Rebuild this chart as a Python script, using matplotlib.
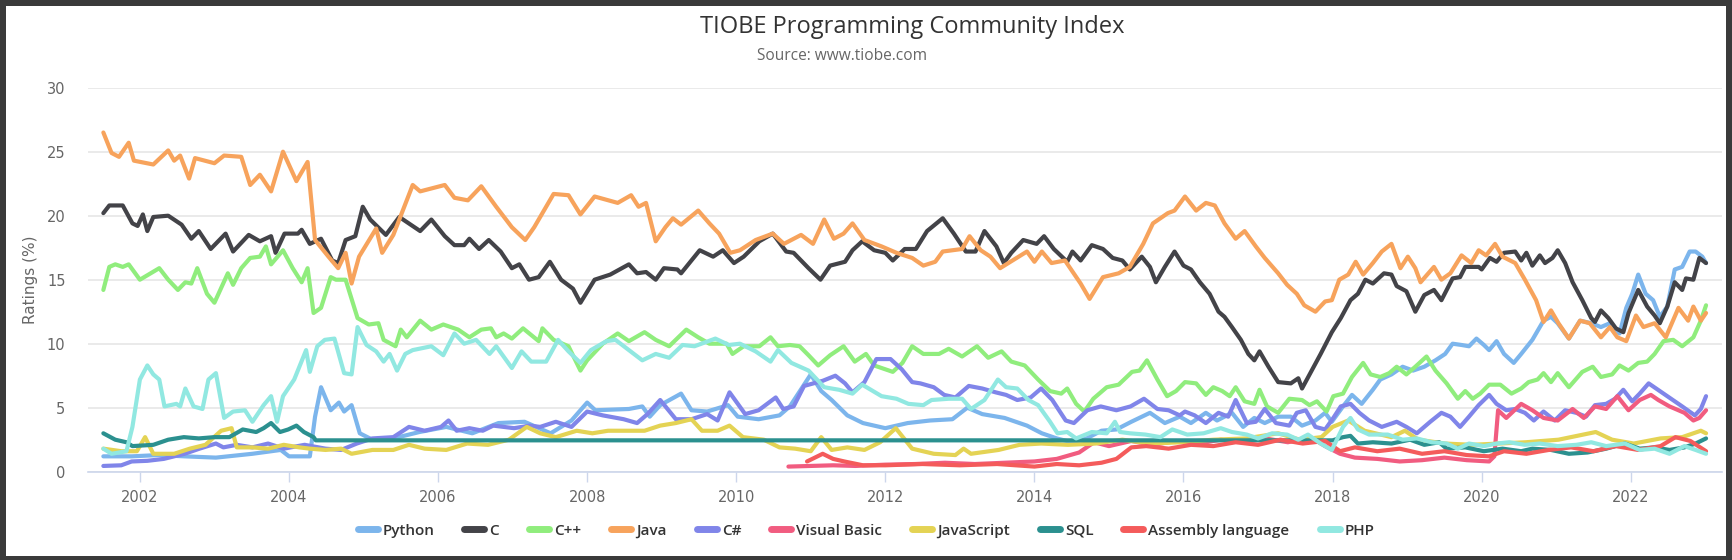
import matplotlib
matplotlib.use("Agg")
import matplotlib.pyplot as plt
from matplotlib.lines import Line2D
from matplotlib.patches import Rectangle

# ---- data (decimal year, rating %) ----
python_t = [2001.51, 2001.89, 2002.25, 2002.6, 2003.02, 2003.51, 2003.89, 2004.0, 2004.28, 2004.35,
            2004.43, 2004.56, 2004.67, 2004.74, 2004.84, 2004.95, 2005.12, 2005.4, 2005.75, 2006.11,
            2006.46, 2006.81, 2007.16, 2007.51, 2007.79, 2008.0, 2008.11, 2008.56, 2008.74, 2008.84,
            2008.98, 2009.26, 2009.4, 2009.61, 2009.89, 2010.02, 2010.3, 2010.58, 2010.72, 2011.0,
            2011.14, 2011.28, 2011.49, 2011.7, 2012.0, 2012.3, 2012.6, 2012.9, 2013.1, 2013.3,
            2013.6, 2013.9, 2014.1, 2014.3, 2014.5, 2014.7, 2014.9, 2015.1, 2015.3, 2015.55,
            2015.75, 2015.95, 2016.1, 2016.3, 2016.45, 2016.65, 2016.8, 2016.95, 2017.09, 2017.27,
            2017.44, 2017.59, 2017.77, 2017.9, 2017.99, 2018.14, 2018.26, 2018.39, 2018.54, 2018.64,
            2018.79, 2018.94, 2019.08, 2019.23, 2019.38, 2019.51, 2019.61, 2019.73, 2019.83, 2019.93,
            2020.03, 2020.1, 2020.2, 2020.3, 2020.43, 2020.53, 2020.68, 2020.83, 2020.93, 2021.02,
            2021.17, 2021.32, 2021.47, 2021.6, 2021.72, 2021.85, 2021.94, 2022.02, 2022.1, 2022.2,
            2022.3, 2022.39, 2022.49, 2022.59, 2022.69, 2022.79, 2022.87, 2022.96, 2023.01]
python_v = [1.2, 1.2, 1.3, 1.2, 1.1, 1.4, 1.7, 1.2, 1.2, 4.3,
            6.6, 4.8, 5.4, 4.7, 5.2, 3.0, 2.5, 2.6, 3.1, 3.5,
            3.0, 3.8, 3.9, 3.0, 4.0, 5.4, 4.8, 4.9, 5.1, 4.3,
            5.2, 6.1, 4.8, 4.7, 5.2, 4.3, 4.1, 4.4, 5.1, 7.6,
            6.3, 5.6, 4.4, 3.8, 3.4, 3.8, 4.0, 4.1, 5.0, 4.5,
            4.2, 3.6, 3.0, 2.6, 2.3, 2.6, 3.2, 3.3, 3.9, 4.6,
            3.8, 4.3, 3.8, 4.6, 4.0, 4.6, 3.5, 4.2, 3.8, 4.3,
            4.3, 3.6, 4.0, 4.6, 3.9, 5.1, 6.0, 5.3, 6.4, 7.2,
            7.6, 8.2, 7.9, 8.2, 8.7, 9.2, 10.0, 9.9, 9.8, 10.4,
            9.9, 9.5, 10.2, 9.2, 8.5, 9.2, 10.3, 11.8, 12.1, 11.6,
            10.4, 11.8, 11.6, 11.3, 11.6, 10.8, 12.8, 13.9, 15.4, 13.9,
            13.4, 12.1, 12.9, 15.8, 16.0, 17.2, 17.2, 16.8, 16.3]

c_t = [2001.51, 2001.59, 2001.77, 2001.9, 2001.97, 2002.04, 2002.1, 2002.18, 2002.38, 2002.56,
       2002.69, 2002.79, 2002.95, 2003.15, 2003.25, 2003.46, 2003.61, 2003.76, 2003.82, 2003.94,
       2004.12, 2004.17, 2004.28, 2004.43, 2004.58, 2004.66, 2004.76, 2004.89, 2004.99, 2005.09,
       2005.3, 2005.48, 2005.76, 2005.91, 2006.09, 2006.22, 2006.35, 2006.42, 2006.55, 2006.68,
       2006.84, 2006.99, 2007.09, 2007.22, 2007.35, 2007.5, 2007.65, 2007.81, 2007.91, 2008.1,
       2008.31, 2008.56, 2008.67, 2008.79, 2008.92, 2009.03, 2009.21, 2009.26, 2009.51, 2009.69,
       2009.82, 2009.97, 2010.1, 2010.31, 2010.49, 2010.67, 2010.77, 2010.97, 2011.13, 2011.26,
       2011.46, 2011.56, 2011.69, 2011.85, 2012.0, 2012.1, 2012.26, 2012.41, 2012.56, 2012.77,
       2012.92, 2013.08, 2013.21, 2013.33, 2013.49, 2013.59, 2013.69, 2013.85, 2014.03, 2014.13,
       2014.26, 2014.44, 2014.51, 2014.62, 2014.77, 2014.92, 2015.05, 2015.18, 2015.28, 2015.44,
       2015.55, 2015.63, 2015.75, 2015.88, 2016.0, 2016.1, 2016.22, 2016.35, 2016.47, 2016.55,
       2016.65, 2016.77, 2016.87, 2016.95, 2017.02, 2017.14, 2017.27, 2017.44, 2017.54, 2017.59,
       2017.72, 2017.84, 2017.99, 2018.11, 2018.24, 2018.34, 2018.44, 2018.54, 2018.69, 2018.79,
       2018.86, 2018.99, 2019.11, 2019.23, 2019.36, 2019.46, 2019.53, 2019.61, 2019.71, 2019.78,
       2019.96, 2020.0, 2020.11, 2020.2, 2020.3, 2020.45, 2020.53, 2020.6, 2020.68, 2020.78,
       2020.85, 2020.95, 2021.02, 2021.12, 2021.22, 2021.35, 2021.47, 2021.52, 2021.6, 2021.7,
       2021.8, 2021.9, 2021.97, 2022.1, 2022.22, 2022.32, 2022.39, 2022.49, 2022.59, 2022.69,
       2022.74, 2022.84, 2022.92, 2023.01]
c_v = [20.2, 20.8, 20.8, 19.4, 19.2, 20.1, 18.8, 19.9, 20.0, 19.3,
       18.2, 18.8, 17.4, 18.6, 17.2, 18.5, 18.0, 18.4, 17.1, 18.6,
       18.6, 18.9, 17.8, 18.2, 16.5, 16.3, 18.1, 18.4, 20.7, 19.7,
       18.5, 19.9, 18.8, 19.7, 18.4, 17.7, 17.7, 18.2, 17.4, 18.1,
       17.2, 15.9, 16.2, 15.0, 15.2, 16.4, 15.0, 14.3, 13.2, 15.0,
       15.4, 16.2, 15.5, 15.6, 15.0, 15.9, 15.8, 15.5, 17.3, 16.8,
       17.3, 16.3, 16.8, 18.0, 18.6, 17.2, 17.1, 15.9, 15.0, 16.1,
       16.4, 17.3, 18.0, 17.3, 17.1, 16.5, 17.4, 17.4, 18.8, 19.8,
       18.6, 17.2, 17.2, 18.8, 17.6, 16.3, 17.1, 18.1, 17.8, 18.4,
       17.4, 16.4, 17.2, 16.5, 17.7, 17.4, 16.7, 16.5, 15.8, 16.8,
       16.0, 14.8, 16.0, 17.2, 16.1, 15.8, 14.8, 13.9, 12.5, 12.1,
       11.3, 10.3, 9.2, 8.7, 9.4, 8.2, 7.0, 6.9, 7.3, 6.5,
       7.9, 9.2, 10.9, 12.0, 13.4, 13.9, 15.0, 14.7, 15.5, 15.4,
       14.5, 14.1, 12.5, 13.8, 14.2, 13.4, 14.2, 15.1, 15.2, 16.0,
       16.0, 15.8, 16.7, 16.4, 17.1, 17.2, 16.5, 17.1, 16.1, 16.9,
       16.3, 16.7, 17.3, 16.3, 14.8, 13.4, 12.0, 11.7, 12.6, 12.0,
       11.2, 10.9, 12.4, 14.2, 12.9, 12.2, 11.6, 12.9, 14.8, 14.2,
       15.1, 15.0, 16.7, 16.3]

cpp_t = [2001.51, 2001.59, 2001.67, 2001.77, 2001.85, 2002.0, 2002.26, 2002.38, 2002.51, 2002.61,
         2002.69, 2002.77, 2002.9, 2003.0, 2003.07, 2003.18, 2003.25, 2003.36, 2003.48, 2003.61,
         2003.69, 2003.76, 2003.92, 2004.05, 2004.17, 2004.25, 2004.33, 2004.43, 2004.56, 2004.63,
         2004.76, 2004.92, 2005.07, 2005.2, 2005.27, 2005.43, 2005.5, 2005.58, 2005.76, 2005.91,
         2006.07, 2006.27, 2006.42, 2006.58, 2006.71, 2006.78, 2006.88, 2006.99, 2007.14, 2007.35,
         2007.4, 2007.55, 2007.75, 2007.91, 2008.0, 2008.21, 2008.41, 2008.56, 2008.77, 2008.92,
         2009.1, 2009.33, 2009.49, 2009.64, 2009.87, 2009.95, 2010.1, 2010.31, 2010.46, 2010.56,
         2010.72, 2010.85, 2010.97, 2011.1, 2011.26, 2011.44, 2011.59, 2011.74, 2011.85, 2012.1,
         2012.23, 2012.36, 2012.51, 2012.72, 2012.85, 2013.03, 2013.23, 2013.38, 2013.56, 2013.69,
         2013.87, 2014.05, 2014.21, 2014.36, 2014.44, 2014.56, 2014.67, 2014.79, 2014.97, 2015.13,
         2015.31, 2015.41, 2015.51, 2015.65, 2015.78, 2015.9, 2016.02, 2016.17, 2016.3, 2016.4,
         2016.52, 2016.62, 2016.7, 2016.82, 2016.95, 2017.02, 2017.12, 2017.27, 2017.42, 2017.59,
         2017.69, 2017.79, 2017.92, 2018.01, 2018.14, 2018.26, 2018.41, 2018.51, 2018.64, 2018.76,
         2018.86, 2018.99, 2019.11, 2019.26, 2019.38, 2019.53, 2019.68, 2019.78, 2019.88, 2019.98,
         2020.1, 2020.25, 2020.4, 2020.53, 2020.63, 2020.75, 2020.83, 2020.93, 2021.02, 2021.17,
         2021.35, 2021.49, 2021.6, 2021.75, 2021.85, 2021.97, 2022.1, 2022.22, 2022.32, 2022.44,
         2022.57, 2022.69, 2022.84, 2022.94, 2023.01]
cpp_v = [14.2, 16.0, 16.2, 16.0, 16.2, 15.0, 15.9, 15.0, 14.2, 14.8,
         14.7, 15.9, 13.9, 13.2, 14.1, 15.5, 14.6, 15.9, 16.7, 16.8,
         17.6, 16.2, 17.3, 15.9, 14.8, 15.9, 12.4, 12.8, 15.2, 15.0,
         15.0, 12.0, 11.5, 11.6, 10.3, 9.8, 11.1, 10.5, 11.8, 11.1,
         11.5, 11.1, 10.5, 11.1, 11.2, 10.5, 10.8, 10.4, 11.2, 10.2,
         11.2, 10.3, 9.8, 7.9, 8.7, 10.0, 10.8, 10.2, 10.9, 10.3,
         9.8, 11.1, 10.5, 10.0, 10.0, 9.2, 9.8, 9.8, 10.5, 9.8,
         9.9, 9.8, 9.1, 8.3, 9.1, 9.8, 8.6, 9.2, 8.3, 7.8,
         8.5, 9.8, 9.2, 9.2, 9.6, 9.0, 9.8, 8.9, 9.4, 8.6,
         8.3, 7.2, 6.3, 6.1, 6.5, 5.3, 4.7, 5.7, 6.6, 6.8,
         7.8, 7.9, 8.7, 7.2, 5.9, 6.3, 7.0, 6.9, 6.0, 6.6,
         6.3, 5.9, 6.6, 5.5, 5.3, 6.4, 5.1, 4.6, 5.7, 5.6,
         5.2, 5.5, 4.7, 5.9, 6.1, 7.4, 8.5, 7.6, 7.4, 7.7,
         8.2, 7.6, 8.2, 9.0, 7.9, 6.9, 5.7, 6.3, 5.7, 6.1,
         6.8, 6.8, 6.1, 6.5, 7.0, 7.2, 7.7, 7.0, 7.7, 6.6,
         7.8, 8.2, 7.4, 7.6, 8.3, 7.9, 8.5, 8.6, 9.2, 10.2,
         10.3, 9.8, 10.5, 11.8, 13.0]

java_t = [2001.51, 2001.62, 2001.72, 2001.85, 2001.92, 2002.18, 2002.38, 2002.46, 2002.54, 2002.66,
          2002.74, 2003.0, 2003.13, 2003.36, 2003.48, 2003.61, 2003.76, 2003.92, 2004.1, 2004.25,
          2004.35, 2004.53, 2004.66, 2004.76, 2004.84, 2004.94, 2005.17, 2005.25, 2005.4, 2005.66,
          2005.76, 2006.09, 2006.22, 2006.4, 2006.58, 2006.78, 2006.99, 2007.17, 2007.29, 2007.55,
          2007.75, 2007.91, 2008.1, 2008.41, 2008.59, 2008.69, 2008.79, 2008.92, 2009.05, 2009.15,
          2009.26, 2009.49, 2009.64, 2009.77, 2009.92, 2010.05, 2010.26, 2010.49, 2010.64, 2010.87,
          2011.03, 2011.18, 2011.31, 2011.44, 2011.56, 2011.72, 2011.95, 2012.15, 2012.36, 2012.51,
          2012.67, 2012.77, 2013.03, 2013.13, 2013.28, 2013.41, 2013.54, 2013.9, 2014.0, 2014.1,
          2014.23, 2014.41, 2014.62, 2014.74, 2014.92, 2015.13, 2015.28, 2015.46, 2015.59, 2015.79,
          2015.88, 2016.02, 2016.17, 2016.3, 2016.42, 2016.55, 2016.7, 2016.82, 2016.97, 2017.09,
          2017.27, 2017.39, 2017.52, 2017.62, 2017.77, 2017.9, 2017.99, 2018.09, 2018.21, 2018.31,
          2018.41, 2018.54, 2018.66, 2018.79, 2018.91, 2019.01, 2019.11, 2019.18, 2019.36, 2019.46,
          2019.58, 2019.73, 2019.86, 2019.96, 2020.06, 2020.18, 2020.28, 2020.45, 2020.58, 2020.73,
          2020.83, 2020.93, 2021.03, 2021.17, 2021.32, 2021.45, 2021.6, 2021.72, 2021.82, 2021.94,
          2022.07, 2022.17, 2022.32, 2022.47, 2022.64, 2022.77, 2022.84, 2022.94, 2023.01]
java_v = [26.5, 24.9, 24.6, 25.7, 24.3, 24.0, 25.1, 24.3, 24.7, 22.9,
          24.5, 24.1, 24.7, 24.6, 22.4, 23.2, 21.9, 25.0, 22.7, 24.2,
          18.1, 16.8, 15.9, 17.1, 14.7, 16.8, 19.0, 17.1, 18.5, 22.4,
          21.9, 22.4, 21.4, 21.2, 22.3, 20.7, 19.1, 18.1, 19.1, 21.7,
          21.6, 20.1, 21.5, 21.0, 21.6, 20.7, 21.0, 18.0, 19.1, 19.8,
          19.3, 20.4, 19.4, 18.6, 17.1, 17.3, 18.1, 18.6, 17.8, 18.5,
          17.8, 19.7, 18.2, 18.6, 19.4, 18.1, 17.6, 17.1, 16.7, 16.1,
          16.4, 17.2, 17.4, 18.4, 17.3, 16.8, 15.9, 17.2, 16.4, 17.2,
          16.3, 16.5, 14.7, 13.5, 15.2, 15.5, 16.0, 17.8, 19.4, 20.2,
          20.4, 21.5, 20.4, 21.0, 20.8, 19.4, 18.2, 18.8, 17.6, 16.7,
          15.5, 14.6, 13.9, 13.0, 12.5, 13.3, 13.4, 15.0, 15.4, 16.4,
          15.4, 16.3, 17.2, 17.8, 15.9, 16.8, 15.9, 14.8, 16.0, 15.0,
          15.5, 16.9, 16.3, 17.3, 16.9, 17.8, 16.8, 16.3, 15.0, 13.4,
          11.7, 12.6, 11.6, 10.4, 11.8, 11.6, 10.5, 11.3, 10.5, 10.2,
          12.2, 11.3, 11.6, 10.5, 12.8, 11.8, 12.9, 11.8, 12.4]

csharp_t = [2001.51, 2001.75, 2001.89, 2002.1, 2002.32, 2002.6, 2002.8, 2003.02, 2003.12, 2003.3,
            2003.51, 2003.72, 2003.93, 2004.21, 2004.49, 2004.7, 2004.91, 2005.12, 2005.4, 2005.61,
            2005.82, 2006.04, 2006.14, 2006.25, 2006.42, 2006.6, 2006.74, 2007.02, 2007.23, 2007.37,
            2007.58, 2007.79, 2008.0, 2008.21, 2008.49, 2008.67, 2008.81, 2008.98, 2009.19, 2009.4,
            2009.61, 2009.75, 2009.91, 2010.12, 2010.3, 2010.53, 2010.63, 2010.77, 2010.91, 2011.16,
            2011.33, 2011.46, 2011.56, 2011.72, 2011.88, 2012.07, 2012.22, 2012.36, 2012.47, 2012.65,
            2012.79, 2012.94, 2013.12, 2013.3, 2013.48, 2013.62, 2013.77, 2013.95, 2014.09, 2014.24,
            2014.42, 2014.53, 2014.71, 2014.89, 2015.1, 2015.29, 2015.47, 2015.65, 2015.8, 2015.95,
            2016.02, 2016.15, 2016.3, 2016.47, 2016.6, 2016.7, 2016.85, 2016.97, 2017.09, 2017.24,
            2017.42, 2017.52, 2017.64, 2017.77, 2017.9, 2018.01, 2018.11, 2018.24, 2018.36, 2018.49,
            2018.66, 2018.86, 2018.99, 2019.13, 2019.31, 2019.46, 2019.58, 2019.71, 2019.83, 2019.96,
            2020.1, 2020.2, 2020.33, 2020.45, 2020.58, 2020.7, 2020.83, 2020.98, 2021.12, 2021.27,
            2021.4, 2021.52, 2021.67, 2021.79, 2021.9, 2022.02, 2022.12, 2022.24, 2022.39, 2022.54,
            2022.69, 2022.86, 2022.94, 2023.01]
csharp_v = [0.45, 0.5, 0.8, 0.85, 1.0, 1.4, 1.8, 2.2, 1.9, 2.1,
            1.9, 2.2, 1.8, 2.1, 1.8, 1.7, 2.2, 2.6, 2.7, 3.5,
            3.2, 3.5, 4.0, 3.2, 3.4, 3.2, 3.6, 3.4, 3.6, 3.5,
            3.9, 3.5, 4.7, 4.4, 4.1, 3.8, 4.5, 5.6, 4.1, 4.1,
            4.5, 4.0, 6.2, 4.5, 4.8, 5.8, 4.9, 5.1, 6.7, 7.1,
            7.5, 6.9, 6.2, 7.0, 8.8, 8.8, 8.0, 7.0, 6.9, 6.6,
            6.0, 5.8, 6.7, 6.5, 6.2, 6.0, 5.6, 5.8, 6.5, 5.6,
            4.0, 3.8, 4.8, 5.1, 4.8, 5.1, 5.7, 4.9, 4.8, 4.4,
            4.7, 4.4, 3.8, 4.6, 4.3, 5.6, 3.8, 3.9, 4.9, 3.8,
            3.6, 4.6, 4.8, 3.5, 3.3, 4.2, 5.1, 5.3, 4.6, 4.0,
            3.5, 3.9, 3.5, 3.0, 3.9, 4.6, 4.3, 3.5, 4.3, 5.2,
            6.0, 5.3, 4.8, 4.9, 4.6, 4.0, 4.7, 4.0, 4.8, 4.6,
            4.3, 5.2, 5.3, 5.7, 6.4, 5.5, 6.1, 6.9, 6.3, 5.7,
            5.1, 4.4, 4.9, 5.9]

vb_t = [2010.7, 2011.0, 2011.3, 2011.6, 2012.0, 2012.4, 2012.8, 2013.2, 2013.6, 2014.0,
        2014.3, 2014.6, 2014.8, 2015.0, 2015.3, 2015.6, 2015.9, 2016.2, 2016.5, 2016.8,
        2017.1, 2017.4, 2017.7, 2017.9, 2018.1, 2018.3, 2018.6, 2018.9, 2019.2, 2019.5,
        2019.8, 2020.1, 2020.17, 2020.22, 2020.33, 2020.53, 2020.68, 2020.83, 2021.02, 2021.22,
        2021.37, 2021.52, 2021.67, 2021.82, 2021.97, 2022.12, 2022.27, 2022.37, 2022.52, 2022.72,
        2022.84, 2022.92, 2023.01]
vb_v = [0.4, 0.45, 0.5, 0.45, 0.55, 0.6, 0.7, 0.6, 0.7, 0.8,
        1.0, 1.5, 2.3, 2.0, 2.4, 2.1, 2.4, 2.2, 2.5, 2.3,
        2.6, 2.3, 2.7, 2.0, 1.4, 1.1, 1.0, 0.8, 0.9, 1.1,
        0.9, 0.8, 1.2, 4.8, 4.2, 5.3, 4.8, 4.2, 4.0, 4.9,
        4.2, 5.1, 4.9, 5.9, 4.8, 5.6, 6.0, 5.6, 5.1, 4.6,
        4.0, 4.2, 4.8]

js_t = [2001.51, 2001.75, 2001.96, 2002.07, 2002.18, 2002.46, 2002.67, 2002.88, 2003.09, 2003.23,
        2003.3, 2003.51, 2003.72, 2003.93, 2004.14, 2004.28, 2004.49, 2004.7, 2004.84, 2005.12,
        2005.4, 2005.61, 2005.82, 2006.11, 2006.39, 2006.67, 2006.95, 2007.19, 2007.37, 2007.58,
        2007.86, 2008.07, 2008.28, 2008.56, 2008.77, 2008.98, 2009.19, 2009.4, 2009.54, 2009.75,
        2009.91, 2010.09, 2010.37, 2010.58, 2010.79, 2011.0, 2011.14, 2011.28, 2011.49, 2011.72,
        2011.93, 2012.14, 2012.36, 2012.65, 2012.94, 2013.05, 2013.15, 2013.52, 2013.8, 2014.09,
        2014.45, 2014.82, 2015.18, 2015.54, 2015.97, 2016.4, 2016.84, 2017.27, 2017.56, 2017.85,
        2018.0, 2018.21, 2018.43, 2018.79, 2018.97, 2019.15, 2019.51, 2019.87, 2020.23, 2020.59,
        2021.03, 2021.53, 2021.75, 2022.04, 2022.4, 2022.69, 2022.94, 2023.01]
js_v = [1.8, 1.6, 1.6, 2.7, 1.4, 1.4, 1.8, 2.1, 3.2, 3.4,
        1.9, 1.9, 1.8, 2.1, 1.9, 1.8, 1.7, 1.8, 1.4, 1.7,
        1.7, 2.1, 1.8, 1.7, 2.2, 2.1, 2.5, 3.5, 3.0, 2.7,
        3.2, 3.0, 3.2, 3.2, 3.2, 3.6, 3.8, 4.1, 3.2, 3.2,
        3.6, 2.7, 2.5, 1.9, 1.8, 1.6, 2.7, 1.7, 1.9, 1.7,
        2.3, 3.4, 1.8, 1.4, 1.3, 1.8, 1.4, 1.7, 2.1, 2.2,
        2.1, 2.2, 2.5, 2.2, 2.3, 2.5, 2.6, 3.0, 2.5, 2.7,
        3.5, 4.0, 3.2, 2.7, 3.2, 2.5, 2.2, 2.1, 2.2, 2.3,
        2.5, 3.1, 2.5, 2.2, 2.6, 2.7, 3.2, 3.0]

sql_t = [2001.51, 2001.67, 2001.82, 2001.9, 2002.18, 2002.38, 2002.59, 2002.79, 2003.0, 2003.2,
         2003.38, 2003.56, 2003.66, 2003.76, 2003.88, 2003.99, 2004.1, 2004.2, 2004.33, 2004.36,
         2018.0, 2018.14, 2018.24, 2018.34, 2018.54, 2018.79, 2019.04, 2019.23, 2019.43, 2019.53,
         2019.78, 2020.03, 2020.28, 2020.53, 2020.68, 2020.93, 2021.17, 2021.42, 2021.67, 2021.92,
         2022.12, 2022.32, 2022.52, 2022.72, 2022.87, 2023.01]
sql_v = [3.0, 2.5, 2.3, 2.0, 2.1, 2.5, 2.7, 2.6, 2.7, 2.7,
         3.3, 3.1, 3.4, 3.8, 3.1, 3.3, 3.6, 3.1, 2.7, 2.45,
         2.45, 2.7, 2.8, 2.2, 2.3, 2.2, 2.5, 2.1, 2.3, 1.8,
         1.9, 1.6, 1.8, 1.6, 1.8, 1.7, 1.4, 1.5, 1.8, 2.2,
         1.8, 1.9, 1.7, 1.9, 2.2, 2.6]

asm_t = [2010.95, 2011.16, 2011.3, 2011.45, 2011.7, 2012.0, 2012.5, 2013.0, 2013.5, 2014.0,
         2014.3, 2014.6, 2014.9, 2015.1, 2015.3, 2015.5, 2015.8, 2016.1, 2016.4, 2016.7,
         2017.0, 2017.3, 2017.6, 2017.9, 2018.1, 2018.3, 2018.6, 2018.9, 2019.2, 2019.5,
         2019.8, 2020.1, 2020.3, 2020.6, 2020.9, 2021.2, 2021.5, 2021.8, 2022.1, 2022.4,
         2022.6, 2022.8, 2023.01]
asm_v = [0.8, 1.4, 1.0, 0.8, 0.5, 0.5, 0.6, 0.5, 0.6, 0.4,
         0.6, 0.5, 0.7, 1.0, 1.9, 2.0, 1.8, 2.1, 2.0, 2.3,
         2.1, 2.5, 2.2, 2.4, 1.6, 1.9, 1.6, 1.8, 1.4, 1.6,
         1.3, 1.2, 1.6, 1.4, 1.7, 1.9, 1.6, 2.0, 1.7, 2.0,
         2.7, 2.4, 1.6]

php_t = [2001.51, 2001.62, 2001.82, 2001.9, 2002.0, 2002.1, 2002.18, 2002.26, 2002.33, 2002.49,
         2002.54, 2002.61, 2002.72, 2002.84, 2002.92, 2003.02, 2003.13, 2003.25, 2003.41, 2003.51,
         2003.66, 2003.76, 2003.84, 2003.92, 2004.07, 2004.23, 2004.28, 2004.38, 2004.48, 2004.61,
         2004.74, 2004.84, 2004.92, 2005.04, 2005.17, 2005.27, 2005.35, 2005.45, 2005.56, 2005.66,
         2005.91, 2006.07, 2006.22, 2006.35, 2006.51, 2006.69, 2006.78, 2006.99, 2007.12, 2007.25,
         2007.45, 2007.61, 2007.75, 2007.91, 2008.05, 2008.26, 2008.38, 2008.56, 2008.74, 2008.92,
         2009.1, 2009.28, 2009.44, 2009.72, 2009.9, 2010.05, 2010.26, 2010.46, 2010.56, 2010.74,
         2010.97, 2011.18, 2011.38, 2011.56, 2011.69, 2011.95, 2012.15, 2012.31, 2012.51, 2012.62,
         2012.85, 2013.03, 2013.15, 2013.33, 2013.51, 2013.62, 2013.77, 2013.92, 2014.05, 2014.21,
         2014.31, 2014.44, 2014.56, 2014.77, 2014.97, 2015.08, 2015.15, 2015.28, 2015.49, 2015.69,
         2015.85, 2016.05, 2016.27, 2016.5, 2016.65, 2016.85, 2017.0, 2017.19, 2017.39, 2017.54,
         2017.67, 2017.84, 2017.99, 2018.14, 2018.24, 2018.34, 2018.49, 2018.74, 2018.94, 2019.13,
         2019.33, 2019.53, 2019.68, 2019.83, 2020.03, 2020.2, 2020.37, 2020.58, 2020.78, 2021.02,
         2021.27, 2021.47, 2021.67, 2021.92, 2022.12, 2022.32, 2022.52, 2022.72, 2022.87, 2023.01]
php_v = [1.8, 1.4, 1.6, 3.5, 7.2, 8.3, 7.6, 7.2, 5.1, 5.3,
         5.1, 6.5, 5.1, 4.9, 7.2, 7.7, 4.2, 4.7, 4.8, 3.9,
         5.2, 5.9, 3.9, 5.9, 7.2, 9.5, 7.8, 9.8, 10.3, 10.4,
         7.7, 7.6, 11.3, 9.9, 9.4, 8.6, 9.2, 7.9, 9.2, 9.5,
         9.8, 9.1, 10.8, 10.0, 10.3, 9.2, 9.8, 8.1, 9.4, 8.6,
         8.6, 10.3, 9.4, 8.5, 9.5, 10.2, 10.3, 9.5, 8.7, 9.2,
         8.9, 9.9, 9.8, 10.4, 9.9, 10.0, 9.4, 8.6, 9.5, 8.5,
         7.9, 6.6, 6.4, 6.1, 6.8, 5.9, 5.7, 5.3, 5.2, 5.6,
         5.7, 5.7, 4.9, 5.6, 7.2, 6.6, 6.5, 5.6, 5.2, 3.9,
         3.0, 3.1, 2.6, 3.1, 3.0, 3.9, 3.1, 3.0, 2.9, 2.7,
         3.3, 2.9, 3.0, 3.4, 3.1, 2.9, 2.6, 3.0, 2.9, 2.5,
         2.9, 2.2, 1.7, 3.5, 4.2, 3.3, 2.9, 2.9, 2.5, 2.6,
         2.3, 2.2, 1.8, 2.2, 2.0, 2.2, 2.3, 2.1, 2.2, 2.0,
         2.1, 2.3, 2.0, 2.2, 1.7, 1.8, 1.4, 2.0, 1.7, 1.4]

series = [
    ("Python", python_t, python_v, "#7cb5ec"),
    ("C", c_t, c_v, "#434348"),
    ("C++", cpp_t, cpp_v, "#90ed7d"),
    ("Java", java_t, java_v, "#f7a35c"),
    ("C#", csharp_t, csharp_v, "#8085e9"),
    ("Visual Basic", vb_t, vb_v, "#f15c80"),
    ("JavaScript", js_t, js_v, "#e4d354"),
    ("SQL", sql_t, sql_v, "#2b908f"),
    ("Assembly language", asm_t, asm_v, "#f45b5b"),
    ("PHP", php_t, php_v, "#91e8e1"),
]
year_ticks = list(range(2002, 2023, 2))
rating_ticks = [0, 5, 10, 15, 20, 25, 30]

W, H = 1732, 560
fig = plt.figure(figsize=(W / 100, H / 100), dpi=100)
fig.patch.set_facecolor("#3a3a3a")
# white chart card inside the dark screenshot frame
card = Rectangle((6 / W, 4 / H), (W - 12) / W, (H - 10) / H,
                 transform=fig.transFigure, facecolor="white", edgecolor="none", zorder=-10)
fig.patches.append(card)

ax_left, ax_right = 87.7, 1721.7
ax = fig.add_axes([ax_left / W, 88.3 / H, (ax_right - ax_left) / W, (471.7 - 87.7) / H])
ax.set_facecolor("none")

for name, t, v, col in series:
    ax.plot(t, v, color=col, lw=3.0, solid_joinstyle="round",
            solid_capstyle="round", label=name)

ax.set_xlim(2001.30, 2023.22)
ax.set_ylim(0, 30)
ax.set_yticks(rating_ticks)
ax.set_xticks(year_ticks)
ax.set_xticklabels([str(y) for y in year_ticks])
ax.grid(axis="y", color="#e6e6e6", lw=1.2)
ax.set_axisbelow(True)
for s in ("top", "right", "left"):
    ax.spines[s].set_visible(False)
ax.spines["bottom"].set_color("#ccd6eb")
ax.spines["bottom"].set_linewidth(1.2)
ax.tick_params(axis="x", length=7, width=1, color="#ccd6eb", colors="#666666",
               labelsize=10.5, pad=6)
ax.tick_params(axis="y", length=0, colors="#666666", labelsize=10.5, pad=16)
ax.set_ylabel("Ratings (%)", color="#666666", fontsize=11)
# put the rotated label about 28 px in from the image edge
ax.yaxis.set_label_coords((38 - ax_left) / (ax_right - ax_left), 0.5)

fig.text(912 / W, 1 - 27 / H, "TIOBE Programming Community Index",
         ha="center", va="center", fontsize=17, color="#333333", family="Open Sans")
fig.text(842 / W, 1 - 56 / H, "Source: www.tiobe.com",
         ha="center", va="center", fontsize=11.2, color="#666666", family="Open Sans")

handles = [Line2D([], [], color=col, lw=5, solid_capstyle="round") for _, _, _, col in series]
fs = 11
px = fs * 100 / 72
leg = fig.legend(handles, [s[0] for s in series], loc="center",
                 bbox_to_anchor=(866 / W, 1 - 531 / H), ncol=10, frameon=False,
                 handlelength=20 / px, handletextpad=5 / px, columnspacing=30 / px,
                 prop={"family": "Open Sans", "size": fs, "weight": "semibold"})
for txt in leg.get_texts():
    txt.set_color("#333333")

fig.savefig("out.png", dpi=100, facecolor=fig.get_facecolor())
